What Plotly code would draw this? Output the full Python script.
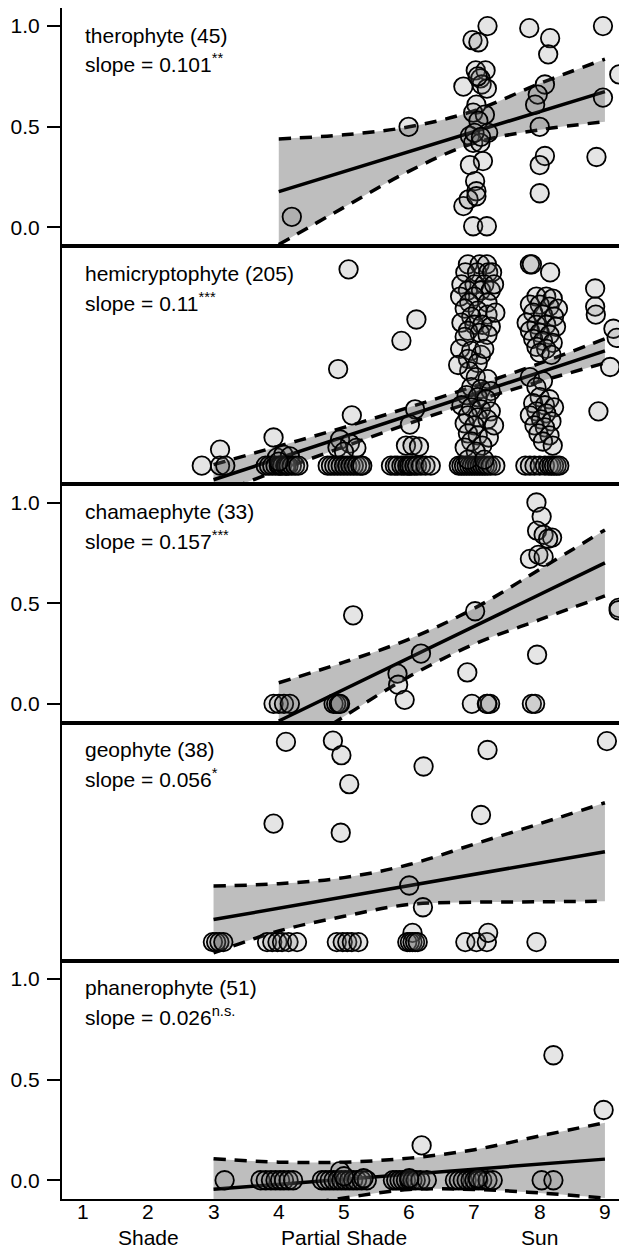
import plotly.graph_objects as go
from plotly.subplots import make_subplots

# ---------------- labels ----------------
panel_names = ["therophyte (45)", "hemicryptophyte (205)", "chamaephyte (33)",
               "geophyte (38)", "phanerophyte (51)"]
slope_vals = ["0.101", "0.11", "0.157", "0.056", "0.026"]
slope_sig = ["**", "***", "***", "*", "n.s."]
x_ticks = [1, 2, 3, 4, 5, 6, 7, 8, 9]
x_tick_text = ["1", "2", "3", "4", "5", "6", "7", "8", "9"]
x_group_pos = [2, 5, 8]
x_group_text = ["Shade", "Partial Shade", "Sun"]
y_ticks = [0.0, 0.5, 1.0]
y_tick_text = ["0.0", "0.5", "1.0"]

# ---------------- therophyte ----------------
thero_x = [7.2, 7.84, 8.97, 8.16, 8.13, 6.97, 7.06, 9.22, 7.02, 7.17, 7.09, 7.11, 6.83,
           7.19, 8.08, 7.97, 7.93, 8.97, 7.03, 6.98, 7.16, 7.06, 5.99, 8.0, 6.93, 7.21,
           6.98, 7.09, 8.08, 8.0, 8.87, 7.13, 6.93, 7.01, 7.03, 8.0, 6.83, 6.91, 7.03,
           6.98, 7.19, 4.2, 7.05, 7.0, 7.1]
thero_y = [1.0, 0.99, 1.0, 0.94, 0.86, 0.93, 0.92, 0.76, 0.78, 0.78, 0.74, 0.71, 0.70,
           0.69, 0.71, 0.66, 0.61, 0.645, 0.61, 0.57, 0.56, 0.53, 0.50, 0.50, 0.455, 0.47,
           0.42, 0.42, 0.355, 0.31, 0.35, 0.33, 0.31, 0.23, 0.18, 0.17, 0.106, 0.14, 0.155,
           0.006, 0.006, 0.053, 0.75, 0.47, 0.45]
thero_band_x = [4, 5, 6, 7, 8, 9]
thero_upper = [0.44, 0.46, 0.50, 0.58, 0.715, 0.836]
thero_lower = [-0.085, 0.10, 0.28, 0.42, 0.485, 0.525]
thero_fit_x = [4, 9]
thero_fit_y = [0.178, 0.675]

# ---------------- hemicryptophyte ----------------
hemi_x = [
    # around 3
    2.82, 3.1, 3.1, 3.18,
    # around 4
    3.92, 3.97, 4.07, 4.17, 3.8, 3.85, 3.9, 3.95, 4.0, 4.02, 4.05, 4.1, 4.12, 4.15,
    4.2, 4.25, 4.3, 4.0,
    # around 5
    4.91, 5.07, 5.12, 4.94, 5.09, 5.19, 4.9, 5.0, 4.75, 4.8, 4.85, 4.9, 4.95, 5.0,
    5.05, 5.1, 5.15, 5.2, 5.25, 5.28,
    # around 6
    5.88, 6.11, 6.09, 6.01, 5.95, 6.05, 6.15, 5.72, 5.78, 5.82, 5.88, 5.92, 5.97,
    6.0, 6.03, 6.08, 6.12, 6.18, 6.25, 6.33,
    # around 9
    8.85, 8.85, 8.86, 9.13, 9.18, 9.08, 8.9,
    # around 7
    6.9, 7.08, 7.19, 6.86, 7.04, 7.21, 7.27,
    6.8, 7.0, 7.15, 6.9, 7.1, 7.25, 6.78, 7.0, 6.92, 7.2,
    6.85, 7.05, 7.2, 6.95,
    6.8, 7.0, 7.12, 7.25, 6.9, 7.08, 7.2, 6.85,
    6.78, 6.95, 7.1, 6.9, 7.05, 7.15,
    6.92, 7.02, 7.2,
    6.95, 7.1, 7.25, 6.88, 7.05, 7.18,
    6.8, 6.95, 7.1, 7.25, 6.9, 7.05, 7.2, 6.85, 7.0,
    6.9, 7.05, 7.22, 6.95, 7.12, 6.85, 7.02,
    6.76, 6.8, 6.84, 6.88, 6.92, 6.96, 7.0, 7.04, 7.08, 7.12, 7.16, 7.2, 7.25, 7.32,
    6.9, 7.15, 7.3, 7.32, 6.75, 7.3,
    # around 8
    7.85, 7.88, 8.16,
    7.95, 8.1, 8.2, 7.85, 8.0, 8.15, 8.28, 7.9, 8.05, 8.22,
    7.8, 7.95, 8.1, 8.25, 7.85, 8.0, 8.15, 7.9, 8.05, 8.2, 7.95, 8.1, 8.0, 8.18,
    7.85, 8.05, 7.95,
    8.0, 8.15, 7.9, 8.08, 8.22, 7.95, 8.1, 7.85, 8.02, 8.18, 7.92, 8.08, 7.98, 8.15,
    8.05, 8.2,
    7.78, 7.85, 7.92, 8.0, 8.08, 8.14, 8.18, 8.22, 8.26, 8.3,
]
hemi_y = [
    0.0, 0.08, 0.0, 0.0,
    0.14, 0.04, 0.055, 0.046, 0.0, 0.0, 0.0, 0.0, 0.0, 0.0, 0.0, 0.0, 0.0, 0.0,
    0.0, 0.0, 0.0, 0.02,
    0.48, 0.975, 0.25, 0.13, 0.11, 0.088, 0.09, 0.07, 0.0, 0.0, 0.0, 0.0, 0.0, 0.0,
    0.0, 0.0, 0.0, 0.0, 0.0, 0.0,
    0.62, 0.726, 0.28, 0.204, 0.1, 0.1, 0.095, 0.0, 0.0, 0.0, 0.0, 0.0, 0.0,
    0.0, 0.0, 0.0, 0.0, 0.0, 0.0, 0.0,
    0.88, 0.79, 0.75, 0.68, 0.635, 0.49, 0.27,
    1.0, 1.0, 1.0, 0.96, 0.96, 0.96, 0.96,
    0.9, 0.9, 0.9, 0.87, 0.87, 0.87, 0.84, 0.84, 0.81, 0.81,
    0.78, 0.77, 0.75, 0.74,
    0.71, 0.7, 0.7, 0.69, 0.67, 0.66, 0.65, 0.64,
    0.58, 0.57, 0.55, 0.53, 0.51, 0.58,
    0.47, 0.44, 0.43,
    0.39, 0.38, 0.37, 0.35, 0.34, 0.33,
    0.3, 0.29, 0.28, 0.27, 0.25, 0.24, 0.23, 0.21, 0.2,
    0.16, 0.15, 0.14, 0.12, 0.1, 0.09, 0.07,
    0.0, 0.0, 0.0, 0.0, 0.0, 0.0, 0.0, 0.0, 0.0, 0.0, 0.0, 0.0, 0.0, 0.0,
    0.03, 0.03, 0.9, 0.76, 0.5, 0.2,
    1.0, 1.0, 0.96,
    0.84, 0.84, 0.83, 0.8, 0.8, 0.79, 0.78, 0.76, 0.75, 0.74,
    0.71, 0.7, 0.7, 0.69, 0.67, 0.66, 0.65, 0.63, 0.62, 0.61, 0.59, 0.58, 0.56, 0.55,
    0.44, 0.42, 0.39,
    0.34, 0.33, 0.31, 0.3, 0.29, 0.27, 0.26, 0.25, 0.23, 0.22, 0.2, 0.19, 0.16, 0.15,
    0.12, 0.1,
    0.0, 0.0, 0.0, 0.0, 0.0, 0.0, 0.0, 0.0, 0.0, 0.0,
]
hemi_band_x = [3, 4, 5, 6, 7, 8, 9]
hemi_upper = [0.005, 0.097, 0.19, 0.29, 0.395, 0.508, 0.63]
hemi_lower = [-0.145, -0.023, 0.094, 0.21, 0.32, 0.418, 0.51]
hemi_fit_x = [3, 9]
hemi_fit_y = [-0.07, 0.57]

# ---------------- chamaephyte ----------------
chama_x = [3.92, 4.0, 4.08, 4.17, 4.84, 4.88, 4.92, 4.94, 5.14, 5.82, 5.83, 5.93, 6.18,
           6.89, 7.01, 6.96, 7.19, 7.24, 7.2, 7.95, 8.03, 7.96, 8.06, 8.19, 8.13, 7.85,
           7.98, 8.06, 7.96, 7.88, 7.93, 9.21, 9.21]
chama_y = [0.0, 0.0, 0.0, 0.0, 0.0, 0.0, 0.0, 0.0, 0.44, 0.15, 0.095, 0.02, 0.25,
           0.156, 0.46, 0.0, 0.0, 0.0, 0.0, 1.0, 0.93, 0.86, 0.84, 0.826, 0.82, 0.72,
           0.74, 0.73, 0.244, 0.0, 0.0, 0.477, 0.465]
chama_band_x = [4, 5, 6, 7, 8, 9]
chama_upper = [0.105, 0.207, 0.322, 0.475, 0.668, 0.864]
chama_lower = [-0.275, -0.063, 0.136, 0.297, 0.418, 0.536]
chama_fit_x = [4, 9]
chama_fit_y = [-0.085, 0.70]

# ---------------- geophyte ----------------
geo_x = [4.11, 3.92, 2.99, 3.04, 3.09, 3.15, 3.82, 3.9, 3.98, 4.05, 4.15, 4.28,
         4.83, 4.96, 5.08, 4.95, 6.22, 7.2, 7.1, 9.03, 6.0, 6.21, 6.05,
         4.89, 4.98, 5.05, 5.12, 5.22, 5.97, 6.01, 6.05, 6.09, 6.13,
         6.86, 7.03, 7.19, 7.21, 7.95]
geo_y = [0.994, 0.588, 0.0, 0.0, 0.0, 0.0, 0.0, 0.0, 0.0, 0.0, 0.0, 0.0,
         1.0, 0.928, 0.784, 0.543, 0.872, 0.954, 0.631, 0.998, 0.281, 0.173, 0.046,
         0.0, 0.0, 0.0, 0.0, 0.0, 0.0, 0.0, 0.0, 0.0, 0.0,
         0.0, 0.0, 0.0, 0.046, 0.0]
geo_band_x = [3, 4, 5, 6, 7, 8, 9]
geo_upper = [0.278, 0.29, 0.32, 0.385, 0.487, 0.588, 0.692]
geo_lower = [-0.054, 0.055, 0.128, 0.187, 0.198, 0.2, 0.203]
geo_fit_x = [3, 9]
geo_fit_y = [0.112, 0.449]

# ---------------- phanerophyte ----------------
phan_x = [3.17, 3.72, 3.8, 3.88, 3.95, 4.02, 4.08, 4.15, 4.22,
          4.94, 4.66, 4.72, 4.78, 4.84, 4.9, 4.96, 5.02, 5.08, 5.14, 5.2, 5.27, 5.35, 5.0,
          6.19, 5.75, 5.8, 5.85, 5.9, 5.95, 6.0, 6.05, 6.1, 6.17, 6.27,
          6.7, 6.76, 6.82, 6.88, 6.94, 7.0, 7.06, 7.12, 7.2, 7.28,
          8.03, 8.21, 8.21, 8.98, 5.3, 6.0, 7.05]
phan_y = [0.0, 0.0, 0.0, 0.0, 0.0, 0.0, 0.0, 0.0, 0.0,
          0.045, 0.0, 0.0, 0.0, 0.0, 0.0, 0.0, 0.0, 0.0, 0.0, 0.0, 0.0, 0.0, 0.02,
          0.173, 0.0, 0.0, 0.0, 0.0, 0.0, 0.0, 0.0, 0.0, 0.0, 0.0,
          0.0, 0.0, 0.0, 0.0, 0.0, 0.0, 0.0, 0.0, 0.0, 0.0,
          0.0, 0.0, 0.621, 0.349, 0.01, 0.01, 0.01]
phan_band_x = [3, 4, 5, 6, 7, 8, 9]
phan_upper = [0.107, 0.09, 0.09, 0.11, 0.152, 0.22, 0.286]
phan_lower = [-0.2, -0.14, -0.088, -0.046, -0.046, -0.063, -0.088]
phan_fit_x = [3, 9]
phan_fit_y = [-0.045, 0.105]

panels = [
    (thero_x, thero_y, thero_band_x, thero_upper, thero_lower, thero_fit_x, thero_fit_y),
    (hemi_x, hemi_y, hemi_band_x, hemi_upper, hemi_lower, hemi_fit_x, hemi_fit_y),
    (chama_x, chama_y, chama_band_x, chama_upper, chama_lower, chama_fit_x, chama_fit_y),
    (geo_x, geo_y, geo_band_x, geo_upper, geo_lower, geo_fit_x, geo_fit_y),
    (phan_x, phan_y, phan_band_x, phan_upper, phan_lower, phan_fit_x, phan_fit_y),
]

FONT = "Liberation Sans, Arial, sans-serif"
FS = 21
X_RANGE = [0.677, 9.323]
Y_RANGE = [-0.093, 1.09]

fig = make_subplots(rows=5, cols=1, shared_xaxes=True, vertical_spacing=0)

for i, (px, py, bx, bu, bl, fx, fy) in enumerate(panels, start=1):
    # band
    fig.add_trace(go.Scatter(x=bx, y=bl, mode="lines", line=dict(width=0, shape="spline"),
                             hoverinfo="skip", showlegend=False), row=i, col=1)
    fig.add_trace(go.Scatter(x=bx, y=bu, mode="lines", line=dict(width=0, shape="spline"),
                             fill="tonexty", fillcolor="#bebebe",
                             hoverinfo="skip", showlegend=False), row=i, col=1)
    # dashed CI lines
    for arr in (bu, bl):
        fig.add_trace(go.Scatter(x=bx, y=arr, mode="lines",
                                 line=dict(color="black", width=3.5, dash="12px,9px", shape="spline"),
                                 hoverinfo="skip", showlegend=False), row=i, col=1)
    # fitted line
    fig.add_trace(go.Scatter(x=fx, y=fy, mode="lines", line=dict(color="black", width=3.5),
                             hoverinfo="skip", showlegend=False), row=i, col=1)
    # points
    fig.add_trace(go.Scatter(x=px, y=py, mode="markers", cliponaxis=False,
                             marker=dict(size=18.5, color="rgba(110,110,110,0.18)",
                                         line=dict(color="black", width=1.8)),
                             showlegend=False), row=i, col=1)

    show_y = i in (1, 3, 5)
    fig.update_yaxes(row=i, col=1, range=Y_RANGE, showgrid=False, zeroline=False,
                     automargin=False,
                     showline=True, mirror=True, linecolor="black", linewidth=2,
                     tickvals=y_ticks if show_y else [], ticktext=y_tick_text if show_y else [],
                     ticks="outside" if show_y else "", ticklen=13, tickwidth=1.5,
                     tickcolor="black", ticklabelstandoff=3,
                     showticklabels=show_y,
                     tickfont=dict(family=FONT, size=FS, color="black"))
    fig.update_xaxes(row=i, col=1, range=X_RANGE, showgrid=False, zeroline=False,
                     automargin=False,
                     showline=True, mirror=True, linecolor="black", linewidth=2,
                     tickvals=x_ticks, ticks="", showticklabels=False)

    xr = "x" if i == 1 else f"x{i}"
    yr = "y" if i == 1 else f"y{i}"
    fig.add_annotation(x=1, y=0.955, xref=xr, yref=yr, text=panel_names[i - 1],
                       showarrow=False, xanchor="left", yanchor="middle",
                       font=dict(family=FONT, size=FS, color="black"))
    fig.add_annotation(x=1, y=0.815, xref=xr, yref=yr,
                       text=f"slope = {slope_vals[i - 1]}<sup>{slope_sig[i - 1]}</sup>",
                       showarrow=False, xanchor="left", yanchor="middle",
                       font=dict(family=FONT, size=FS, color="black"))

# bottom axis tick labels (drawn as text at the tick positions)
for pos, txt in zip(x_ticks, x_tick_text):
    fig.add_annotation(x=pos, y=-0.0101, xref="x5", yref="paper", text=txt,
                       showarrow=False, xanchor="center", yanchor="middle",
                       font=dict(family=FONT, size=FS, color="black"))
for pos, txt in zip(x_group_pos, x_group_text):
    fig.add_annotation(x=pos, y=-0.0327, xref="x5", yref="paper", text=txt,
                       showarrow=False, xanchor="center", yanchor="middle",
                       font=dict(family=FONT, size=FS, color="black"))

# the page body has an 8px margin, so the figure is sized/offset to compensate
fig.update_layout(width=619, height=1240, margin=dict(l=54, r=1, t=0, b=49, autoexpand=False),
                  paper_bgcolor="white", plot_bgcolor="white", showlegend=False,
                  font=dict(family=FONT, size=FS, color="black"))

fig.write_html("out.html")
